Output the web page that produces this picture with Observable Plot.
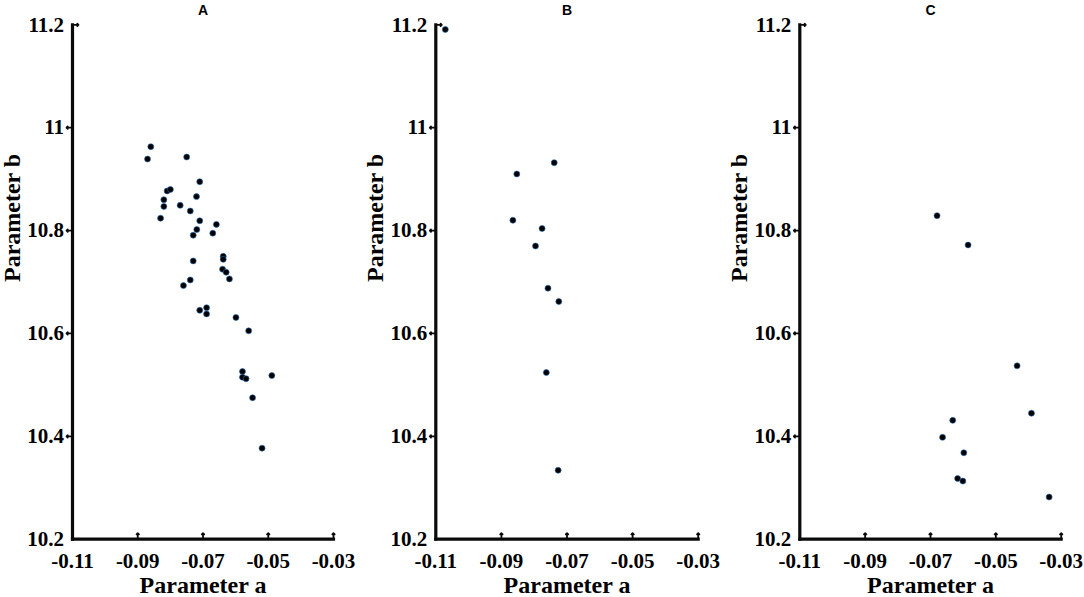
<!DOCTYPE html>
<html>
<head>
<meta charset="utf-8">
<script src="https://cdn.jsdelivr.net/npm/d3@7"></script>
<script src="https://cdn.jsdelivr.net/npm/@observablehq/plot@0.6"></script>
<style>
  html, body { margin: 0; padding: 0; background: #fff; overflow: hidden; }
  #row { display: flex; flex-direction: row; width: 1084px; height: 597px; }
</style>
</head>
<body>
<div id="row"></div>
<script>
// ---- data ----
const panelNames = ["A", "B", "C"];

const aParamA = [-0.0870, -0.0860, -0.0750, -0.0710, -0.0810, -0.0800, -0.0820, -0.0820, -0.0830, -0.0770,
                 -0.0720, -0.0739, -0.0710, -0.0659, -0.0670, -0.0719, -0.0730, -0.0638, -0.0638, -0.0730,
                 -0.0640, -0.0629, -0.0619, -0.0739, -0.0760, -0.0710, -0.0689, -0.0689, -0.0599, -0.0560,
                 -0.0579, -0.0579, -0.0568, -0.0489, -0.0548, -0.0519];
const aParamB = [10.939, 10.963, 10.943, 10.895, 10.877, 10.880, 10.860, 10.847, 10.824, 10.849,
                 10.866, 10.838, 10.819, 10.812, 10.795, 10.802, 10.791, 10.750, 10.744, 10.741,
                 10.725, 10.719, 10.706, 10.704, 10.693, 10.645, 10.650, 10.638, 10.631, 10.605,
                 10.526, 10.515, 10.512, 10.518, 10.475, 10.377];

const bParamA = [-0.1071, -0.0853, -0.0739, -0.0865, -0.0776, -0.0796, -0.0758, -0.0725, -0.0763, -0.0727];
const bParamB = [11.191, 10.910, 10.932, 10.820, 10.804, 10.770, 10.688, 10.662, 10.524, 10.334];

const cParamA = [-0.0680, -0.0585, -0.0435, -0.0391, -0.0632, -0.0663, -0.0598, -0.0617, -0.0601, -0.0337];
const cParamB = [10.829, 10.772, 10.537, 10.445, 10.431, 10.398, 10.368, 10.318, 10.313, 10.282];

const xTicks = [-0.11, -0.09, -0.07, -0.05, -0.03];
const xTickLabels = ["-0.11", "-0.09", "-0.07", "-0.05", "-0.03"];
const yTicks = [10.2, 10.4, 10.6, 10.8, 11.0, 11.2];
const yTickLabels = ["10.2", "10.4", "10.6", "10.8", "11", "11.2"];

const xLabel = "Parameter a";
const yLabel = "Parameter b";

// ---- build ----
const seriesA = [aParamA, bParamA, cParamA];
const seriesB = [aParamB, bParamB, cParamB];

const pad = 3; // scale inset inside the frame
const layout = [
  {width: 361, marginLeft: 72, marginRight: 28},
  {width: 362, marginLeft: 74.3, marginRight: 25.3},
  {width: 361, marginLeft: 76.3, marginRight: 23.3}
];

const xDomain = [xTicks[0], xTicks[xTicks.length - 1]];
const yDomain = [yTicks[0], yTicks[yTicks.length - 1]];

// axis spines as link segments derived from the tick ranges
const spines = [
  {x1: xDomain[0], y1: yDomain[0], x2: xDomain[0], y2: yDomain[1]},
  {x1: xDomain[0], y1: yDomain[0], x2: xDomain[1], y2: yDomain[0]}
];

const serif = "'Liberation Serif', 'Times New Roman', serif";
const sans = "'Liberation Sans', Arial, sans-serif";
const tickFont = 21;

const row = document.getElementById("row");

panelNames.forEach((name, i) => {
  const pts = seriesA[i].map((a, j) => ({a, b: seriesB[i][j]}));
  const xt = xTicks.map((v, j) => ({v, label: xTickLabels[j]}));
  const yt = yTicks.map((v, j) => ({v, label: yTickLabels[j]}));
  const L = layout[i];
  const chart = Plot.plot({
    width: L.width,
    height: 597,
    marginLeft: L.marginLeft - pad,
    marginRight: L.marginRight - pad,
    marginTop: 24.3 - pad,
    marginBottom: 58.3 - pad,
    x: {domain: xDomain, inset: pad, axis: null},
    y: {domain: yDomain, inset: pad, axis: null},
    marks: [
      // axis spines
      Plot.link(spines, {x1: "x1", y1: "y1", x2: "x2", y2: "y2", stroke: "#0a0a0a", strokeWidth: 3.2,
                strokeLinecap: "square"}),
      // inward ticks on the x axis
      Plot.vector(xTicks.slice(1), {x: d => d, y: yDomain[0], length: 6, rotate: 0,
                  anchor: "start", stroke: "#0a0a0a", strokeWidth: 1.8}),
      // outward ticks on the y axis
      Plot.vector(yTicks.slice(1, -1), {y: d => d, x: xDomain[0], length: 6, rotate: -90,
                  anchor: "start", stroke: "#0a0a0a", strokeWidth: 1.8}),
      // top stub
      Plot.vector(yTicks.slice(-1), {y: d => d, x: xDomain[0], length: 6, rotate: 90,
                  anchor: "start", stroke: "#0a0a0a", strokeWidth: 1.8}),
      // tick labels
      Plot.text(xt, {x: "v", y: yDomain[0], dy: 13.5, text: "label", lineAnchor: "top",
                 fontSize: tickFont, fontFamily: serif, fontWeight: "bold", fill: "#000"}),
      Plot.text(yt, {y: "v", x: xDomain[0], dx: -8.5, text: "label", textAnchor: "end",
                 lineAnchor: "middle", fontSize: tickFont, fontFamily: serif, fontWeight: "bold", fill: "#000"}),
      // points
      Plot.dot(pts, {x: "a", y: "b", r: 3, fill: "#000", stroke: "#2a6fb5", strokeWidth: 0.6}),
      // panel title
      Plot.text([name], {frameAnchor: "top", dy: -14.5 + pad, text: d => d, fontFamily: sans,
                 fontWeight: "bold", fontSize: 14, fill: "#000", lineAnchor: "middle"}),
      // axis labels
      Plot.text([xLabel], {frameAnchor: "bottom", dy: 46.5 - pad, text: d => d, fontFamily: serif,
                 fontWeight: "bold", fontSize: 24, fill: "#000", lineAnchor: "middle"}),
      Plot.text([yLabel], {frameAnchor: "left", dx: -60.5 + pad, rotate: -90, text: d => d, fontFamily: serif,
                 fontWeight: "bold", fontSize: 24, fill: "#000", lineAnchor: "middle"})
    ]
  });
  row.appendChild(chart);
});
</script>
</body>
</html>
